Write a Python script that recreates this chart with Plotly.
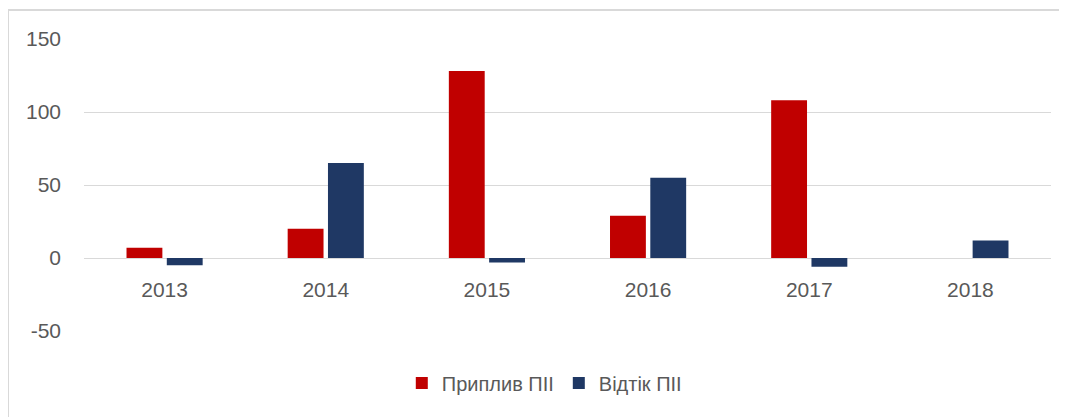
import plotly.graph_objects as go

# дані з діаграми
years = ["2013", "2014", "2015", "2016", "2017", "2018"]
inflow = [7, 20, 128, 29, 108, 0]     # Приплив ПІІ
outflow = [-5, 65, -3, 55, -6, 12]    # Відтік ПІІ
y_ticks = [-50, 0, 50, 100, 150]
y_labels = ["-50", "0", "50", "100", "150"]   # звичайний дефіс, як в Excel

font_family = "Liberation Sans, Arial, sans-serif"

fig = go.Figure()
fig.add_trace(go.Bar(x=years, y=inflow, name="Приплив ПІІ",
                     marker_color="#C00000", marker_line_width=0))
fig.add_trace(go.Bar(x=years, y=outflow, name="Відтік ПІІ",
                     marker_color="#1F3864", marker_line_width=0))

# сторінка має відступ 8px, тому поля зменшені
fig.update_layout(
    width=1067, height=417,
    margin=dict(l=76, r=24, t=31, b=94),
    paper_bgcolor="white", plot_bgcolor="white",
    barmode="group", bargap=0.5, bargroupgap=0.11,
    font=dict(family=font_family, size=20, color="#595959"),
    showlegend=True,
    legend=dict(orientation="h", x=0.476, xanchor="center", y=-0.178,
                yanchor="middle", font=dict(size=20, color="#595959"),
                itemwidth=30, traceorder="normal"),
)
# підписи років біля нульової лінії, як у Excel
fig.update_xaxes(anchor="free", position=0.25, showline=False,
                 showgrid=False, ticks="", ticklabelstandoff=17,
                 tickfont=dict(size=21, color="#595959"))
fig.update_yaxes(range=[-50, 150], tickvals=y_ticks, ticktext=y_labels,
                 showgrid=True, gridcolor="#D9D9D9", gridwidth=1,
                 zeroline=True, zerolinecolor="#D9D9D9", zerolinewidth=1,
                 ticks="", ticklabelstandoff=22,
                 tickfont=dict(size=21, color="#595959"))

# рамка навколо діаграми (права і нижня сторони за межами кадру)
fig.add_shape(type="rect", xref="paper", yref="paper",
              x0=-0.0786, x1=1.05, y0=-0.35, y1=1.0993,
              line=dict(color="#D9D9D9", width=2), layer="below")

fig.write_html("out.html")
